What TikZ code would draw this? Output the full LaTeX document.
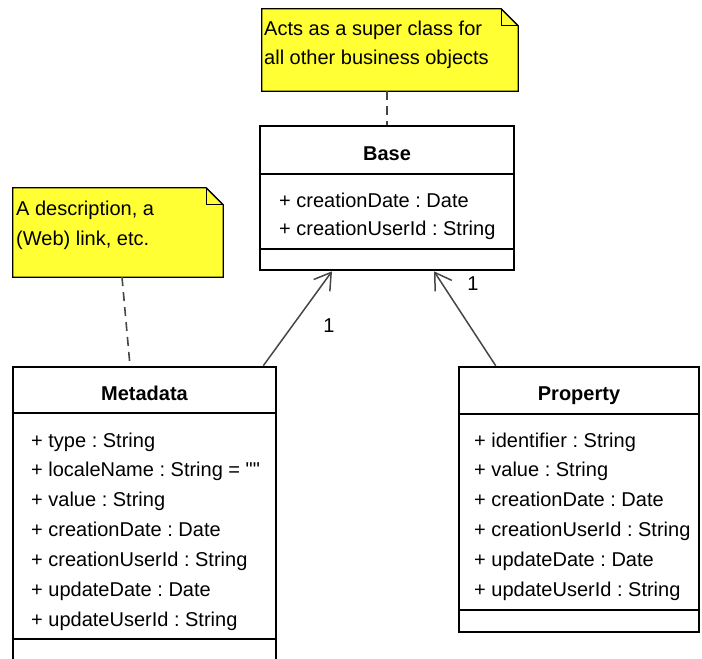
\documentclass[tikz,border=0pt]{standalone}
\usepackage{fontspec}
\setmainfont{Liberation Sans}
\newfontfamily\rawfont{Liberation Sans}
\usetikzlibrary{arrows.meta, positioning}
\definecolor{noteyellow}{RGB}{255,255,51}
\definecolor{linkgray}{RGB}{70,70,70}
\frenchspacing

\begin{document}
\begin{tikzpicture}[x=1pt, y=-1pt,
	font=\fontsize{20}{29}\selectfont,
	classbox/.style={draw=black, line width=2.6pt, fill=white, inner sep=0pt},
	divider/.style={draw=black, line width=1.3pt},
	notebox/.style={inner sep=0pt},
	notefill/.style={fill=noteyellow, draw=black, line width=1.3pt},
	attr/.style={anchor=base west, inner sep=0pt},
	title/.style={anchor=base, inner sep=0pt, font=\fontsize{20}{24}\selectfont\bfseries},
	notelink/.style={draw=linkgray, line width=1.6pt, dash pattern=on 9pt off 6pt},
	assoc/.style={draw=linkgray, line width=1.5pt, -{Straight Barb[length=16pt, width=20pt]}}]
			\clip (0,0) rectangle (702,659);
			\useasboundingbox (0,0) rectangle (702,659);
			% notes
			\node[notebox, minimum width=256, minimum height=82] (topnote) at (390,50) {};
			\filldraw[notefill] (topnote.north west) -- ([xshift=-17]topnote.north east)
			-- ([yshift=-17]topnote.north east) -- (topnote.south east) -- (topnote.south west) -- cycle;
			\draw[line width=1.3pt] ([xshift=-17]topnote.north east) |- ([yshift=-17]topnote.north east);
			\node[attr] (topnote-a) at (264,35) {Acts as a super class for};
			\node[attr] (topnote-b) at (264,64) {all other business objects};
			\node[notebox, minimum width=210, minimum height=89] (leftnote) at (118,232.5) {};
			\filldraw[notefill] (leftnote.north west) -- ([xshift=-17]leftnote.north east)
			-- ([yshift=-17]leftnote.north east) -- (leftnote.south east) -- (leftnote.south west) -- cycle;
			\draw[line width=1.3pt] ([xshift=-17]leftnote.north east) |- ([yshift=-17]leftnote.north east);
			\node[attr] (leftnote-a) at (16,215) {A description, a};
			\node[attr] (leftnote-b) at (16,245) {(Web) link, etc.};
			% classes
			\node[classbox, minimum width=254, minimum height=144] (base) at (387,198) {};
			\draw[divider] (base.west |- 0,174) -- (base.east |- 0,174);
			\draw[divider] (base.west |- 0,249) -- (base.east |- 0,249);
			\node[title] (base-name) at (387,160) {Base};
			\node[attr] (base-0) at (279,207) {+ creationDate : Date};
			\node[attr] (base-1) at (279,235.5) {+ creationUserId : String};
			\node[classbox, minimum width=263, minimum height=313] (metadata) at (144.5,523.5) {};
			\draw[divider] (metadata.west |- 0,413) -- (metadata.east |- 0,413);
			\draw[divider] (metadata.west |- 0,639) -- (metadata.east |- 0,639);
			\node[title] (metadata-name) at (144.5,400) {Metadata};
			\foreach \t [count=\i from 0] in {+ type : String, + localeName : String = {\rawfont\char34\char34},
				+ value : String, + creationDate : Date, + creationUserId : String,
				+ updateDate : Date, + updateUserId : String}
			\node[attr] (metadata-\i) at (31,447+29.9*\i) {\t};
			\node[classbox, minimum width=240, minimum height=265] (property) at (579,499.5) {};
			\draw[divider] (property.west |- 0,414) -- (property.east |- 0,414);
			\draw[divider] (property.west |- 0,610) -- (property.east |- 0,610);
			\node[title] (property-name) at (579,400) {Property};
			\foreach \t [count=\i from 0] in {+ identifier : String, + value : String,
				+ creationDate : Date, + creationUserId : String,
				+ updateDate : Date, + updateUserId : String}
			\node[attr] (property-\i) at (474,447+29.9*\i) {\t};
			% links
			\draw[notelink] (base.north |- topnote.south) -- (base.north);
			\draw[notelink] ([xshift=4]leftnote.south) -- ([xshift=-14.5]metadata.north);
			\draw[assoc] ([xshift=-14]metadata.north east) -- ([xshift=-55]base.south);
			\draw[assoc] ([xshift=38]property.north west) -- ([xshift=47]base.south);
			\node[anchor=base, inner sep=0pt] (metadata-mult) at (329,332) {1};
			\node[anchor=base, inner sep=0pt] (property-mult) at (473,290) {1};
		\end{tikzpicture}
\end{document}
